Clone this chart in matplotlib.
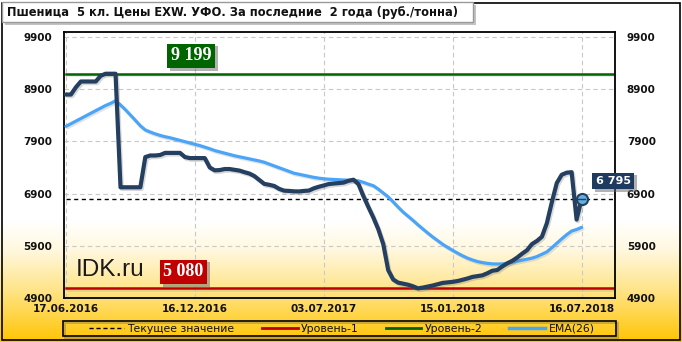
import numpy as np
import matplotlib
matplotlib.use("Agg")
import matplotlib.pyplot as plt
from matplotlib.patches import Rectangle
from matplotlib.lines import Line2D
import matplotlib.patheffects as pe

# ---------------- data ----------------
title = "Пшеница  5 кл. Цены EXW. УФО. За последние  2 года (руб./тонна)"

price = [8800, 8800, 8940, 9050, 9050, 9050, 9050, 9160, 9199, 9199,
         9199, 7020, 7020, 7020, 7020, 7020, 7600, 7630, 7630, 7640,
         7680, 7680, 7680, 7680, 7600, 7580, 7580, 7580, 7580, 7400,
         7345, 7350, 7370, 7370, 7355, 7340, 7310, 7283, 7235, 7160,
         7085, 7068, 7045, 6990, 6955, 6950, 6942, 6940, 6950, 6957,
         7000, 7030, 7055, 7082, 7092, 7100, 7110, 7145, 7165, 7080,
         6850, 6640, 6440, 6215, 5930, 5430, 5250, 5190, 5170, 5150,
         5120, 5080, 5095, 5115, 5135, 5160, 5185, 5195, 5205, 5221,
         5245, 5270, 5300, 5315, 5330, 5370, 5418, 5432, 5500, 5560,
         5607, 5670, 5745, 5812, 5930, 5990, 6070, 6330, 6730, 7100,
         7260, 7300, 7310, 6400, 6795]

ema26 = [8190, 8240, 8290, 8340, 8390, 8440, 8490, 8540, 8590, 8630,
         8680, 8600, 8508, 8406, 8305, 8200, 8120, 8080, 8045, 8015,
         7990, 7970, 7945, 7920, 7895, 7870, 7845, 7820, 7790, 7760,
         7725, 7700, 7675, 7650, 7625, 7605, 7585, 7565, 7545, 7525,
         7500, 7465, 7430, 7395, 7360, 7325, 7290, 7270, 7250, 7230,
         7210, 7195, 7183, 7175, 7170, 7165, 7160, 7155, 7150, 7143,
         7115, 7080, 7050, 6985, 6910, 6835, 6740, 6640, 6545, 6465,
         6385, 6300, 6220, 6140, 6065, 5995, 5925, 5865, 5810, 5755,
         5705, 5660, 5625, 5595, 5575, 5560, 5550, 5548, 5550, 5560,
         5580, 5600, 5620, 5640, 5660, 5690, 5735, 5780, 5860, 5945,
         6030, 6110, 6180, 6210, 6250]

x_tick_pos = [0, 26, 52, 78, 104]
x_tick_labels = ["17.06.2016", "16.12.2016", "03.07.2017", "15.01.2018", "16.07.2018"]
y_ticks = [4900, 5900, 6900, 7900, 8900, 9900]

level_1 = 5080
level_2 = 9199
current = 6795

legend_labels = ["Текущее значение", "Уровень-1", "Уровень-2", "EMA(26)"]

# ---------------- colours ----------------
C_PRICE = "#243f60"
C_EMA = "#4aa5f8"
C_L1 = "#c00000"
C_L2 = "#006400"
C_CUR_BOX = "#1f3a5f"

W, H = 682, 342
fig = plt.figure(figsize=(W / 100, H / 100), dpi=100, facecolor="white")

# background gradient (white -> yellow/orange at the bottom)
bg = fig.add_axes([0, 0, 1, 1], zorder=-10)
rows = np.arange(H)
stops = [0, 220, 250, 290, 342]
g = np.interp(rows, stops, [255, 255, 248, 228, 196]) / 255
b = np.interp(rows, stops, [255, 255, 222, 135, 0]) / 255
r = np.ones(H)
grad = np.stack([r, g, b], axis=1)[:, None, :].repeat(2, axis=1)
bg.imshow(grad, extent=[0, 1, 0, 1], aspect="auto", interpolation="bilinear")
bg.set_xlim(0, 1)
bg.set_ylim(0, 1)
bg.axis("off")

# outer frame
fig.patches.append(Rectangle((1.5 / W, 2 / H), 678.5 / W, 337.5 / H, transform=fig.transFigure,
                             fill=False, ec="black", lw=1.2, zorder=1))

# title box
title_box = Rectangle((2 / W, (H - 22) / H), 471 / W, 20 / H, transform=fig.transFigure,
                      fc="white", ec="#9a9a9a", lw=1.0, zorder=3)
title_box.set_path_effects([pe.withSimplePatchShadow(offset=(2, -2), shadow_rgbFace="#888888", alpha=0.5)])
fig.patches.append(title_box)
fig.text(7 / W, (H - 12.5) / H, title, ha="left", va="center", fontsize=8.3,
         fontweight="bold", color="#111111", zorder=4)

# main axes
ax = fig.add_axes([64 / W, (H - 298) / H, 551 / W, 266 / H])
ax.set_facecolor("none")
ax.set_xlim(-0.4, 110.75)
ax.set_ylim(4895, 10000)

ax.set_xticks(x_tick_pos)
ax.set_xticklabels(x_tick_labels)
ax.set_yticks(y_ticks)
ax.set_yticklabels([str(v) for v in y_ticks])
ax.tick_params(axis="both", length=0, labelsize=7.5, colors="#111111")
ax.tick_params(axis="y", labelright=True, pad=8.5)
ax.tick_params(axis="x", pad=4)
for lab in ax.get_xticklabels() + ax.get_yticklabels():
    lab.set_fontweight("bold")
for t in ax.yaxis.get_major_ticks():
    t.label2.set_fontweight("bold")
    t.label2.set_fontsize(7.5)

ax.grid(True, color="#c8c8c8", linestyle=(0, (4, 3)), linewidth=0.8)
ax.set_axisbelow(True)
for s in ax.spines.values():
    s.set_linewidth(1.3)
    s.set_color("black")

shadow = [pe.SimpleLineShadow(offset=(1, -1.2), shadow_color="#777777", alpha=0.2), pe.Normal()]

idx = np.arange(len(price))

ax.axhline(level_1, xmin=0.004, xmax=0.996, color=C_L1, lw=1.8, path_effects=shadow, zorder=2)
ax.axhline(level_2, xmin=0.004, xmax=0.996, color=C_L2, lw=1.8, path_effects=shadow, zorder=2)
ax.axhline(current, xmin=0.004, xmax=0.996, color="black", lw=1.0, linestyle=(0, (3, 2.5)), zorder=3)

ax.plot(idx, ema26, color=C_EMA, lw=2.3, solid_capstyle="round", solid_joinstyle="round",
        path_effects=shadow, zorder=4)
ax.plot(idx, price, color=C_PRICE, lw=3.0, solid_capstyle="round", solid_joinstyle="round",
        path_effects=[pe.SimpleLineShadow(offset=(1, -1.2), shadow_color="#666666", alpha=0.25), pe.Normal()],
        zorder=5)
ax.plot(idx[-1], price[-1], "o", ms=8, mfc="#62b0de", mec=C_PRICE, mew=1.5, zorder=6)
ax.plot([idx[-1] - 0.7, idx[-1] + 0.7], [current, current], color=C_PRICE, lw=1.0, zorder=7)

box_shadow = [pe.withSimplePatchShadow(offset=(2, -2), shadow_rgbFace="#666666", alpha=0.5)]

t2 = ax.annotate(f"{level_2:,}".replace(",", " "), xy=(0.231, level_2),
                 xycoords=("axes fraction", "data"), xytext=(0, 13), textcoords="offset points",
                 ha="center", va="center", fontsize=13, fontweight="bold", family="Liberation Serif",
                 color="white", zorder=8,
                 bbox=dict(boxstyle="square,pad=0.2", fc=C_L2, ec="none"))
t2.get_bbox_patch().set_path_effects(box_shadow)

t1 = ax.annotate(f"{level_1:,}".replace(",", " "), xy=(0.217, level_1),
                 xycoords=("axes fraction", "data"), xytext=(0, 12), textcoords="offset points",
                 ha="center", va="center", fontsize=13, fontweight="bold", family="Liberation Serif",
                 color="white", zorder=8,
                 bbox=dict(boxstyle="square,pad=0.2", fc=C_L1, ec="none"))
t1.get_bbox_patch().set_path_effects(box_shadow)

ax.text(0.022, 0.105, "IDK.ru", transform=ax.transAxes, ha="left", va="center",
        fontsize=17.5, family="Liberation Sans", color="#1a1a1a", zorder=8)

tc = ax.annotate(f"{current:,}".replace(",", " "), xy=(idx[-1], price[-1]),
                 xytext=(22.7, 13), textcoords="offset points", ha="center", va="center",
                 fontsize=8, fontweight="bold", color="white", zorder=9, annotation_clip=False,
                 bbox=dict(boxstyle="square,pad=0.3", fc=C_CUR_BOX, ec="none"))
tc.get_bbox_patch().set_path_effects(box_shadow)

# legend frame with a thin offset shadow
fig.patches.append(Rectangle((65 / W, (H - 338) / H), 553 / W, 15 / H, transform=fig.transFigure,
                             fill=False, ec="#8a7a40", lw=1.4, alpha=0.45, zorder=1.5))
fig.patches.append(Rectangle((63 / W, (H - 336) / H), 553 / W, 15 / H, transform=fig.transFigure,
                             fill=False, ec="black", lw=1.2, zorder=2))
handles = [Line2D([], [], color="black", lw=1.0, linestyle=(0, (3, 2))),
           Line2D([], [], color=C_L1, lw=2.0),
           Line2D([], [], color=C_L2, lw=2.0),
           Line2D([], [], color=C_EMA, lw=2.5)]
fig.legend(handles, legend_labels, loc="center", bbox_to_anchor=(341.5 / W, (H - 328.5) / H),
           ncol=4, frameon=False, fontsize=7.8, handlelength=3.3, handletextpad=0.3,
           columnspacing=2.5, borderpad=0, labelcolor="#111111")

fig.savefig("out.png", dpi=100, facecolor="white")
